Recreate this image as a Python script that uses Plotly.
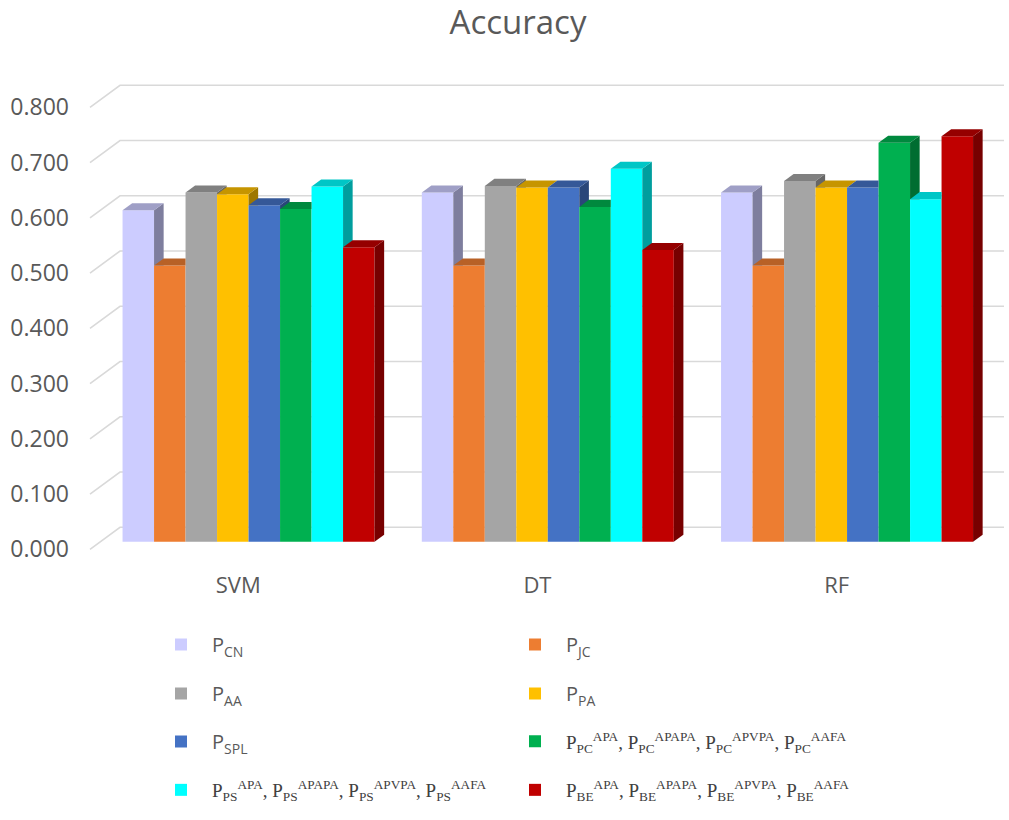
import plotly.graph_objects as go

# ---- data -------------------------------------------------------------
categories = ["SVM", "DT", "RF"]

p_cn = [0.600, 0.632, 0.632]
p_jc = [0.500, 0.500, 0.500]
p_aa = [0.632, 0.644, 0.653]
p_pa = [0.629, 0.641, 0.641]
p_spl = [0.609, 0.641, 0.641]
p_pc = [0.602, 0.606, 0.722]
p_ps = [0.643, 0.675, 0.620]
p_be = [0.533, 0.528, 0.734]

y_ticks = [0.0, 0.1, 0.2, 0.3, 0.4, 0.5, 0.6, 0.7, 0.8]

series_labels = [
    "P<sub>CN</sub>",
    "P<sub>JC</sub>",
    "P<sub>AA</sub>",
    "P<sub>PA</sub>",
    "P<sub>SPL</sub>",
    "P<sub>PC</sub><sup>APA</sup>, P<sub>PC</sub><sup>APAPA</sup>, "
    "P<sub>PC</sub><sup>APVPA</sup>, P<sub>PC</sub><sup>AAFA</sup>",
    "P<sub>PS</sub><sup>APA</sup>, P<sub>PS</sub><sup>APAPA</sup>, "
    "P<sub>PS</sub><sup>APVPA</sup>, P<sub>PS</sub><sup>AAFA</sup>",
    "P<sub>BE</sub><sup>APA</sup>, P<sub>BE</sub><sup>APAPA</sup>, "
    "P<sub>BE</sub><sup>APVPA</sup>, P<sub>BE</sub><sup>AAFA</sup>",
]
series_values = [p_cn, p_jc, p_aa, p_pa, p_spl, p_pc, p_ps, p_be]

# ---- styling ----------------------------------------------------------
front_colors = ["#CCCCFF", "#ED7D31", "#A5A5A5", "#FFC000",
                "#4472C4", "#00B050", "#00FFFF", "#C00000"]
serif_label = [False, False, False, False, False, True, True, True]


def shade(hex_color, k):
    h = hex_color.lstrip("#")
    r, g, b = (int(h[i:i + 2], 16) for i in (0, 2, 4))
    return "#{:02X}{:02X}{:02X}".format(int(r * k), int(g * k), int(b * k))


# pseudo-3D geometry (oblique projection of the depth axis)
W, H = 1009, 820
ML, MR, MT, MB = 80, 0, 60, 260
PX_PER_UNIT = 31.5          # one bar width in pixels
PX_PER_VAL = 552.5          # pixels per 1.0 of accuracy
X0_PX = 238.2               # pixel of the first category centre (front plane)
Y0_PX = 549.3               # pixel of value 0 on the front plane
DX = 30 / PX_PER_UNIT       # full wall depth, projected x shift
DY = 22 / PX_PER_VAL        # full wall depth, projected y shift
F0, F1 = 0.345, 0.665       # bar depth span as a fraction of wall depth
GROUP_STEP = 9.5            # 8 bars + 150 % gap
WALL_LEFT_PX, WALL_RIGHT_PX = 90, 1004

x_range = [(ML - X0_PX) / PX_PER_UNIT, (W - MR - X0_PX) / PX_PER_UNIT]
y_range = [(Y0_PX - (H - MB)) / PX_PER_VAL, (Y0_PX - MT) / PX_PER_VAL]
wall_left = (WALL_LEFT_PX - X0_PX) / PX_PER_UNIT
wall_right = (WALL_RIGHT_PX - X0_PX) / PX_PER_UNIT

base = F0 * DY
sx = F0 * DX
dd = (F1 - F0) * DX
ee = (F1 - F0) * DY

fig = go.Figure()

# front faces of the columns, one trace per series
n_series = len(series_values)
for j, (vals, col) in enumerate(zip(series_values, front_colors)):
    xs = [i * GROUP_STEP - 4 + j + 0.5 + sx for i in range(len(categories))]
    legend_id = "legend" if j == 0 else f"legend{j + 1}"
    fig.add_trace(go.Bar(
        x=xs, y=vals, base=[base] * len(vals), width=1.0,
        marker=dict(color=col, line=dict(width=0)),
        name=series_labels[j], legend=legend_id,
        hoverinfo="skip",
    ))

# side and top faces, drawn left to right so nearer faces overlap correctly
for i in range(len(categories)):
    for j in range(n_series):
        v = series_values[j][i]
        nxt = series_values[j + 1][i] if j + 1 < n_series else None
        xl = i * GROUP_STEP - 4 + j + sx
        xr = xl + 1
        h = base + v
        side = None
        if nxt is None:
            side = [(xr, base), (xr + dd, base + ee), (xr + dd, h + ee), (xr, h)]
        elif v > nxt:
            h1 = base + nxt
            side = [(xr, h1), (xr + dd, h1), (xr + dd, h + ee), (xr, h)]
        if side is not None:
            fig.add_trace(go.Scatter(
                x=[p[0] for p in side], y=[p[1] for p in side],
                fill="toself", mode="lines",
                fillcolor=shade(front_colors[j], 0.62),
                line=dict(width=0, color=shade(front_colors[j], 0.62)),
                showlegend=False, hoverinfo="skip",
            ))
        c = h if nxt is None else min(max(base + nxt, h), h + ee)
        top = [(xl, h), (xr, h), (xr, c), (xr + dd * (c - h) / ee, c),
               (xr + dd, h + ee), (xl + dd, h + ee)]
        fig.add_trace(go.Scatter(
            x=[p[0] for p in top], y=[p[1] for p in top],
            fill="toself", mode="lines",
            fillcolor=shade(front_colors[j], 0.78),
            line=dict(width=0, color=shade(front_colors[j], 0.78)),
            showlegend=False, hoverinfo="skip",
        ))

# side-wall and back-wall gridlines
shapes = []
for t in y_ticks:
    path = (f"M {wall_left},{t} L {wall_left + DX},{t + DY} "
            f"L {wall_right},{t + DY}")
    shapes.append(dict(type="path", path=path, xref="x", yref="y",
                       layer="below", line=dict(color="#D9D9D9", width=1.6)))

# legend boxes laid out in two columns
col_px = [182, 536]
row_px = [644.5, 693.5, 741.5, 790]
ITEM_W = 52                 # symbol area; puts the text ~31 px right of the swatch
plot_w = W - ML - MR
plot_h = H - MT - MB
legends = {}
for j in range(n_series):
    cx = col_px[j % 2]
    cy = row_px[j // 2]
    key = "legend" if j == 0 else f"legend{j + 1}"
    font = (dict(family="Liberation Serif", size=19, color="#404040")
            if serif_label[j] else
            dict(family="Open Sans", size=20, color="#595959"))
    legends[key] = dict(
        x=(cx - (ITEM_W + 10) / 2 - 1 - ML) / plot_w,
        y=((H - MB) - cy) / plot_h,
        xanchor="left", yanchor="middle", itemwidth=ITEM_W,
        bgcolor="rgba(0,0,0,0)", borderwidth=0, font=font,
    )

fig.update_layout(
    width=W, height=H, autosize=False,
    margin=dict(l=ML, r=MR, t=MT, b=MB, pad=0),
    paper_bgcolor="white", plot_bgcolor="white",
    barmode="overlay",
    showlegend=True,
    title=dict(text="Accuracy", x=518 / W, xanchor="center",
               y=1 - 22 / H, yanchor="middle", xref="container",
               yref="container",
               font=dict(family="Open Sans", size=33, color="#595959")),
    xaxis=dict(range=x_range, showgrid=False, zeroline=False, showline=False,
               tickvals=[i * GROUP_STEP for i in range(len(categories))],
               ticktext=categories, ticks="",
               tickfont=dict(family="Open Sans", size=22, color="#595959"),
               ticklabelstandoff=10, fixedrange=True),
    yaxis=dict(range=y_range, showgrid=False, zeroline=False, showline=False,
               tickvals=y_ticks, tickformat=".3f", ticks="",
               tickfont=dict(family="Open Sans", size=23, color="#595959"),
               ticklabelstandoff=10, fixedrange=True),
    shapes=shapes,
    **legends,
)

fig.write_html("out.html")
